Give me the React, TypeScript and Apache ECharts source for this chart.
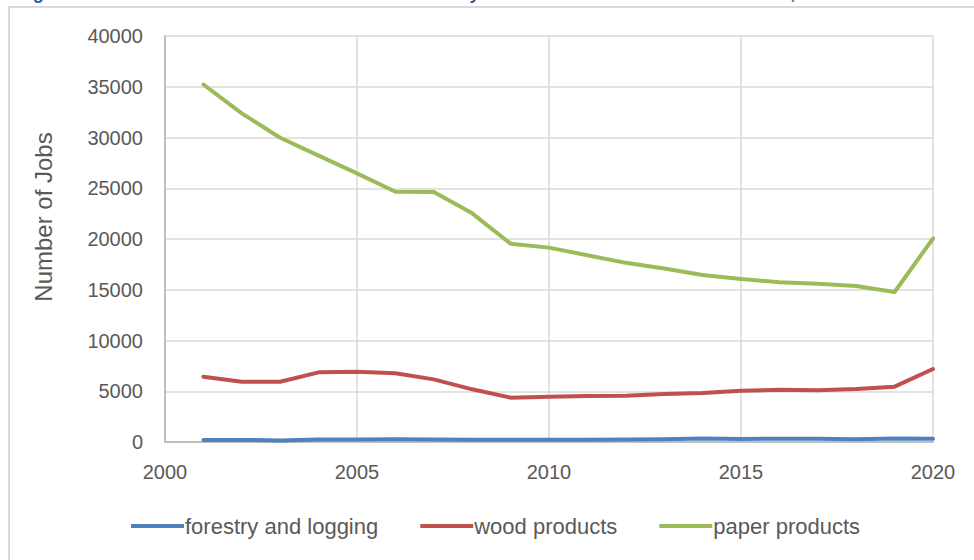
import React, { useEffect, useRef } from "react";
import * as echarts from "echarts";

const years = [2001, 2002, 2003, 2004, 2005, 2006, 2007, 2008, 2009, 2010, 2011, 2012, 2013, 2014, 2015, 2016, 2017, 2018, 2019, 2020];
const forestryLogging = [200, 200, 160, 240, 250, 280, 250, 220, 220, 220, 220, 250, 260, 350, 300, 330, 330, 280, 350, 330];
const woodProducts = [6430, 5940, 5940, 6860, 6920, 6770, 6170, 5190, 4370, 4470, 4530, 4550, 4720, 4820, 5050, 5150, 5100, 5220, 5450, 7190];
const paperProducts = [35220, 32380, 29980, 28220, 26470, 24660, 24620, 22530, 19540, 19150, 18400, 17650, 17100, 16450, 16050, 15750, 15600, 15370, 14780, 20050];
const seriesNames = ["forestry and logging", "wood products", "paper products"];
const seriesColors = ["#4F81BD", "#C0504D", "#9BBB59"];
const titleText = "Figure 5: Number of Jobs in the Maine Forest Industry Sectors Over the Last Two Decades, 2001-2020";

const FONT = "Liberation Sans";

export default function App() {
  const ref = useRef<HTMLDivElement>(null);
  useEffect(() => {
    if (!ref.current) return;
    const chart = echarts.init(ref.current, undefined, { renderer: "svg" });
    const toPairs = (arr: number[]) => arr.map((v, i) => [years[i], v]);
    const allData = [forestryLogging, woodProducts, paperProducts];
    chart.setOption({
      animation: false,
      backgroundColor: "#ffffff",
      textStyle: { fontFamily: FONT },
      grid: { left: 165, right: 41, top: 36, bottom: 118, containLabel: false },
      xAxis: {
        type: "value",
        min: 2000,
        max: 2020,
        interval: 5,
        axisLine: { show: true, onZero: false, lineStyle: { color: "#bfbfbf", width: 2 } },
        axisTick: { show: false },
        axisLabel: { color: "#595959", fontSize: 20, margin: 20, fontFamily: FONT, formatter: (v: number) => String(v) },
        splitLine: { show: true, lineStyle: { color: "#d9d9d9", width: 1.5 } },
      },
      yAxis: {
        type: "value",
        min: 0,
        max: 40000,
        interval: 5000,
        axisLine: { show: true, lineStyle: { color: "#bfbfbf", width: 2 } },
        axisTick: { show: false },
        axisLabel: { color: "#595959", fontSize: 20, margin: 22, fontFamily: FONT, formatter: (v: number) => String(v) },
        splitLine: { show: true, lineStyle: { color: "#d9d9d9", width: 1.5 } },
      },
      legend: {
        bottom: 18,
        left: 126,
        itemGap: 42,
        itemWidth: 53,
        itemHeight: 4,
        icon: "rect",
        textStyle: { color: "#595959", fontSize: 22, fontFamily: FONT, padding: [0, 0, 0, -4] },
        data: seriesNames,
      },
      graphic: [
        {
          type: "rect",
          z: -10,
          shape: { x: 9, y: 7, width: 1200, height: 800 },
          style: { fill: "none", stroke: "#d9d9d9", lineWidth: 2 },
        },
        {
          type: "text",
          x: 18,
          y: 2,
          style: {
            text: titleText,
            fill: "#2F5597",
            font: "italic bold 18px 'Liberation Sans'",
            verticalAlign: "bottom",
            align: "left",
          },
        },
        {
          type: "text",
          x: 43,
          y: 217,
          rotation: Math.PI / 2,
          style: {
            text: "Number of Jobs",
            fill: "#595959",
            font: "24px 'Liberation Sans'",
            align: "center",
            verticalAlign: "middle",
          },
        },
      ],
      series: seriesNames.map((name, i) => ({
        name,
        type: "line",
        data: toPairs(allData[i]),
        showSymbol: false,
        symbol: "none",
        lineStyle: { color: seriesColors[i], width: 4, cap: "round", join: "round" },
        itemStyle: { color: seriesColors[i] },
        z: 2 + i,
      })),
    });
    return () => chart.dispose();
  }, []);
  return <div ref={ref} style={{ position: "fixed", left: 0, top: 0, width: 974, height: 560 }} />;
}
